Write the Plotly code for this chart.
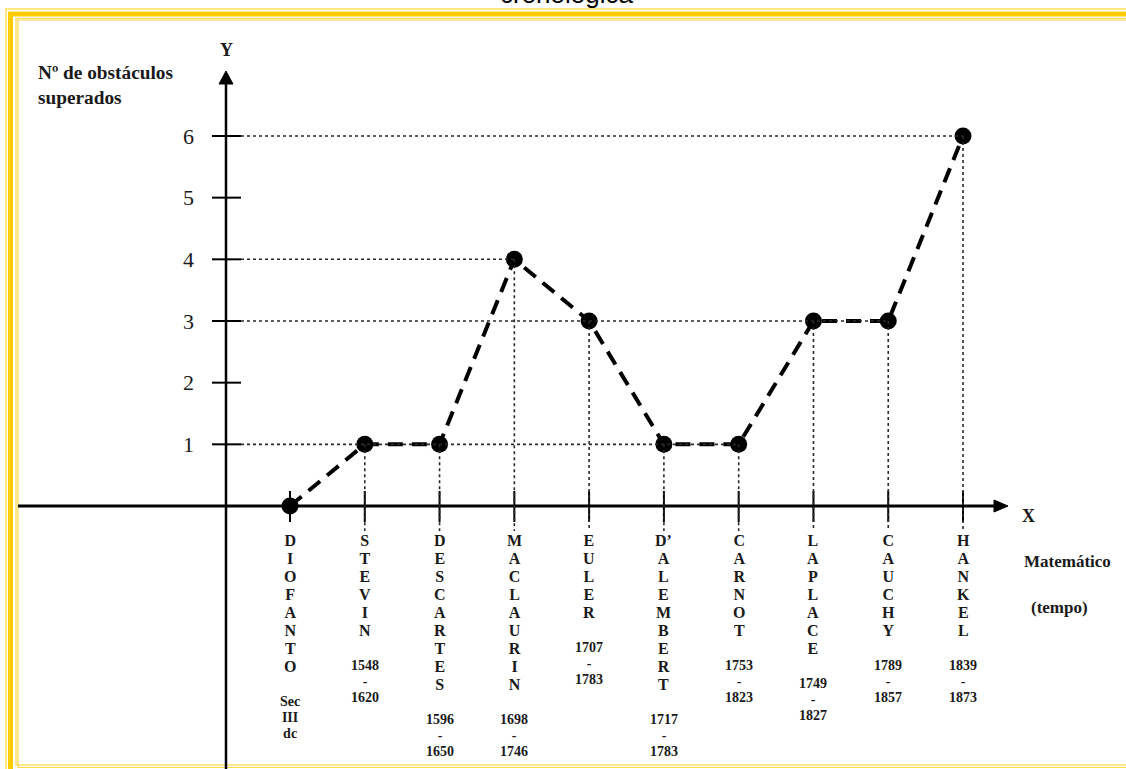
import plotly.graph_objects as go

# ---------------- data ----------------
mathematicians = ["DIOFANTO", "STEVIN", "DESCARTES", "MACLAURIN", "EULER",
                  "D'ALEMBERT", "CARNOT", "LAPLACE", "CAUCHY", "HANKEL"]
lifespans = [["Sec", "III", "dc"], ["1548", "-", "1620"], ["1596", "-", "1650"],
             ["1698", "-", "1746"], ["1707", "-", "1783"], ["1717", "-", "1783"],
             ["1753", "-", "1823"], ["1749", "-", "1827"], ["1789", "-", "1857"],
             ["1839", "-", "1873"]]
obstacles = [0, 1, 1, 4, 3, 1, 1, 3, 3, 6]
y_ticks = [1, 2, 3, 4, 5, 6]

W, H = 1126, 769
X0PX, XSTEP = 290.0, 74.78      # pixel of first mathematician, spacing
Y0PX, YSTEP = 506.0, 61.67      # pixel of y=0, pixels per unit


def px2x(p):
    return (p - X0PX) / XSTEP


def py2y(p):
    return (Y0PX - p) / YSTEP


def split_letters(name):
    out = []
    for ch in name:
        if ch in "'’" and out:
            out[-1] += "’"
        else:
            out.append(ch)
    return out


xs = list(range(len(mathematicians)))
INK = "#1a1a1a"
SERIF = "Liberation Serif"

fig = go.Figure()

shapes = []
# ---- frame (yellow double border) ----
def prect(x0, y0, x1, y1, color, width):
    shapes.append(dict(type="rect", xref="paper", yref="paper",
                       x0=x0 / W, x1=x1 / W, y0=1 - y0 / H, y1=1 - y1 / H,
                       line=dict(color=color, width=width), layer="below"))

prect(6, 9, 1200, 800, "#FFE680", 2)
prect(10.5, 14, 1200, 772, "#FFCC00", 5)
prect(16, 18.5, 1200, 765, "#FFE066", 1.5)
prect(18, 20, 1200, 767.5, "#FFD84A", 1.2)

# ---- axes lines ----
ax_x = px2x(226)
shapes.append(dict(type="line", x0=ax_x, x1=ax_x, y0=py2y(790), y1=py2y(82),
                   line=dict(color="black", width=2.5)))
shapes.append(dict(type="path",
                   path=f"M {ax_x - 7/XSTEP} {py2y(84)} L {ax_x} {py2y(71)} L {ax_x + 7/XSTEP} {py2y(84)} Z",
                   fillcolor="black", line=dict(color="black", width=1)))
shapes.append(dict(type="line", x0=px2x(18), x1=px2x(996), y0=0, y1=0,
                   line=dict(color="black", width=3)))
shapes.append(dict(type="path",
                   path=f"M {px2x(994)} {6/YSTEP} L {px2x(1008)} 0 L {px2x(994)} {-6/YSTEP} Z",
                   fillcolor="black", line=dict(color="black", width=1)))

# y ticks
for t in y_ticks:
    shapes.append(dict(type="line", x0=px2x(212), x1=px2x(241), y0=t, y1=t,
                       line=dict(color="black", width=2)))
# x ticks
for x in xs:
    shapes.append(dict(type="line", x0=x, x1=x, y0=py2y(491), y1=py2y(522),
                       line=dict(color="black", width=2)))

# dotted guide lines
levels = sorted(set(v for v in obstacles if v > 0))
for lv in levels:
    xmax = max(x for x, v in zip(xs, obstacles) if v == lv)
    shapes.append(dict(type="line", x0=px2x(241), x1=xmax, y0=lv, y1=lv,
                       line=dict(color="#2a2a2a", width=1.6, dash="dot")))
for x, v in zip(xs, obstacles):
    if v > 0:
        shapes.append(dict(type="line", x0=x, x1=x, y0=v, y1=py2y(531),
                           line=dict(color="#2a2a2a", width=1.6, dash="dot")))

fig.add_trace(go.Scatter(
    x=xs, y=obstacles, mode="lines+markers",
    line=dict(color="black", width=4, dash="15px,9px"),
    marker=dict(color="black", size=17),
    hoverinfo="skip", showlegend=False))

annotations = []
NAME_LH = 18.0   # line spacing of name letters (px)
YEAR_LH = 16.2   # line spacing of year lines (px)
# mathematician names and life spans
for x, name, life in zip(xs, mathematicians, lifespans):
    letters = split_letters(name)
    annotations.append(dict(
        x=x, y=py2y(531), xref="x", yref="y",
        text="<br>".join(f'<span style="font-size:16px"><b>{c}</b></span>' for c in letters),
        showarrow=False, xanchor="center", yanchor="top", align="center",
        font=dict(family=SERIF, size=NAME_LH / 1.3, color=INK), borderpad=0))
    first_center = 540 + NAME_LH * (len(letters) - 1) + 36
    annotations.append(dict(
        x=x, y=py2y(first_center - 9), xref="x", yref="y",
        text="<br>".join(f'<span style="font-size:14px"><b>{s}</b></span>' for s in life),
        showarrow=False, xanchor="center", yanchor="top", align="center",
        font=dict(family=SERIF, size=YEAR_LH / 1.3, color=INK), borderpad=0))

side = [
    dict(x=ax_x, y=py2y(50), text="<b>Y</b>", xanchor="center", yanchor="middle", size=18),
    dict(x=px2x(1028), y=py2y(516), text="<b>X</b>", xanchor="center", yanchor="middle", size=18),
    dict(x=px2x(1022), y=py2y(561), text="<b>Matemático</b>", xanchor="left", yanchor="middle", size=17),
    dict(x=px2x(1029), y=py2y(607), text="<b>(tempo)</b>", xanchor="left", yanchor="middle", size=17),
    dict(x=px2x(36), y=py2y(84.5), text="<b>Nº de obstáculos<br>superados</b>",
         xanchor="left", yanchor="middle", align="left", size=19.3),
]
for a in side:
    size = a.pop("size")
    a.update(xref="x", yref="y", showarrow=False,
             font=dict(family=SERIF, size=size, color=INK))
    annotations.append(a)

# truncated title at top
annotations.append(dict(x=567 / W, y=1 - 11 / H, xref="paper", yref="paper",
                        text="cronológica", showarrow=False,
                        xanchor="center", yanchor="bottom",
                        font=dict(family="Liberation Sans", size=26, color="black")))

fig.update_layout(
    width=W, height=H, template="none",
    margin=dict(l=0, r=0, t=0, b=0),
    paper_bgcolor="white", plot_bgcolor="white",
    xaxis=dict(range=[px2x(0), px2x(W)], visible=False, fixedrange=True),
    yaxis=dict(range=[py2y(H), py2y(0)], showgrid=False, zeroline=False,
               showline=False, ticks="", tickvals=y_ticks,
               ticktext=[str(t) for t in y_ticks],
               tickfont=dict(family=SERIF, size=22, color=INK),
               anchor="free", position=226 / W, ticklabelstandoff=32,
               automargin=False, fixedrange=True),
    shapes=shapes, annotations=annotations, showlegend=False,
)

fig.write_html("out.html",
               config={"displayModeBar": False},
               post_script="document.body.style.margin='0';"
                           "document.body.style.overflow='hidden';"
                           "document.documentElement.style.overflow='hidden';")
